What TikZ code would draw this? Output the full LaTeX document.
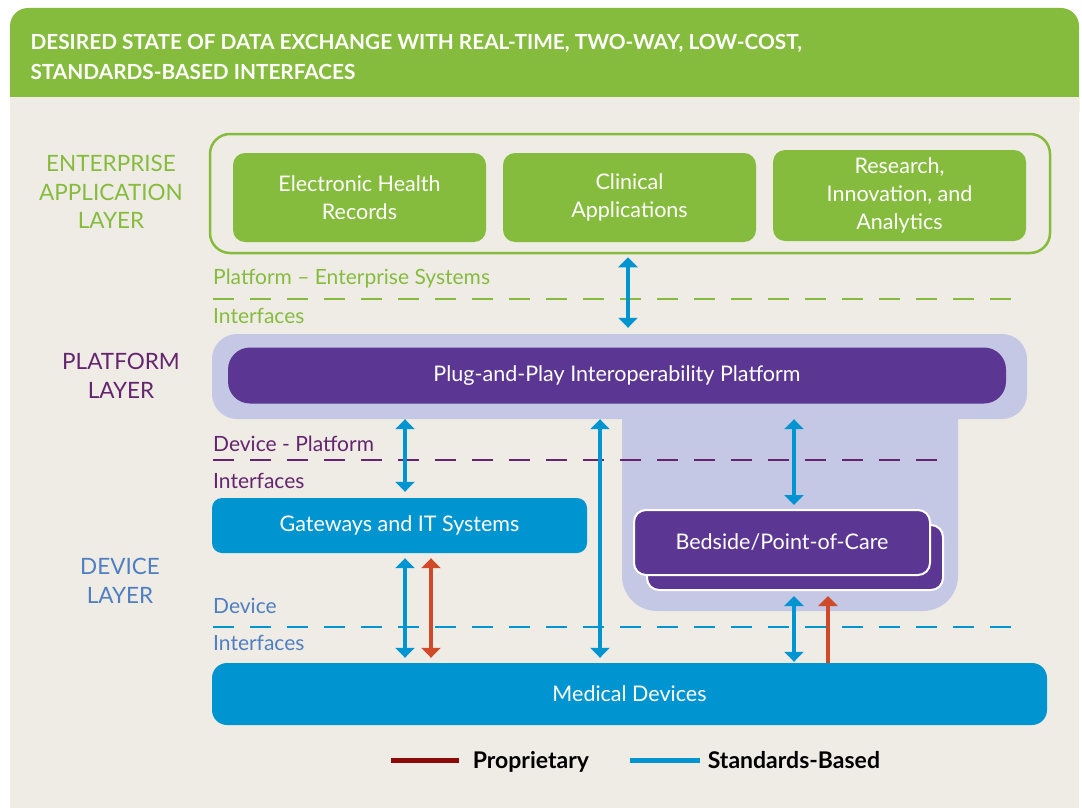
\documentclass[tikz,border=0pt]{standalone}
\usepackage{fontspec}
\setmainfont{Lato}
\usetikzlibrary{arrows.meta, positioning, calc}

\definecolor{entgreen}{RGB}{134, 188, 61}
\definecolor{pagebeige}{RGB}{239, 236, 230}
\definecolor{platlav}{RGB}{197, 200, 228}
\definecolor{platpurple}{RGB}{91, 55, 147}
\definecolor{devblue}{RGB}{0, 149, 208}
\definecolor{propred}{RGB}{208, 74, 42}
\definecolor{legendred}{RGB}{139, 10, 10}
\definecolor{labelpurple}{RGB}{100, 36, 110}
\definecolor{labelblue}{RGB}{79, 127, 192}

\tikzset{
  boxfont/.style={font=\fontsize{21.5}{28}\selectfont},
  appbox/.style={boxfont, fill=entgreen, text=white, rounded corners=12pt, align=center,
    minimum width=253pt, minimum height=89pt, inner sep=0pt},
  layerlabel/.style={font=\fontsize{22.5}{28.5}\selectfont, align=center},
  iflabel/.style={font=\fontsize{21}{25}\selectfont, anchor=west, inner sep=0pt},
  ifline/.style={line width=2.5pt, dash pattern=on 21pt off 16pt},
  legendtext/.style={text=black, font=\fontsize{23}{27}\bfseries, anchor=base west, yshift=-8pt},
  stdarrow/.style={devblue, line width=4pt, arrows={Triangle[width=19pt,length=10pt]-Triangle[width=19pt,length=10pt]}},
  proparrow/.style={propred, line width=4pt, arrows={Triangle[width=19pt,length=10pt]-Triangle[width=19pt,length=10pt]}},
}

\begin{document}
\begin{tikzpicture}[x=1pt, y=-1pt]
  \useasboundingbox (0, 0) rectangle (1082, 808);
  \fill[white] (0, 0) rectangle (1082, 808);

  % Header band and page
  \fill[entgreen, rounded corners=18pt] (10, 8) rectangle (1079, 130);
  \fill[pagebeige] (10, 97) rectangle (1079, 808);
  \node[anchor=west, align=left, text=white, font=\fontsize{20.8}{30}\bfseries] (title) at (27, 56.5) {
    DESIRED STATE OF DATA EXCHANGE WITH REAL-TIME, TWO-WAY, LOW-COST,\\
    STANDARDS-BASED INTERFACES
  };

  % Layer names
  \node[layerlabel, text=entgreen] (entlayer) at (111, 192) {ENTERPRISE\\APPLICATION\\LAYER};
  \node[layerlabel, text=labelpurple] (platlayer) at (121, 376) {PLATFORM\\LAYER};
  \node[layerlabel, text=labelblue] (devlayer) at (120, 581) {DEVICE\\LAYER};

  % Enterprise applications
  \node[draw=entgreen, line width=2.5pt, rounded corners=20pt, minimum width=840pt, minimum height=119pt] (ent) at (630, 193.5) {};
  \node[appbox] (ehr) at (359.5, 197.5) {Electronic Health\\Records};
  \node[appbox] (clin) at (629.5, 197.5) {Clinical\\Applications};
  \node[appbox, minimum height=91pt] (res) at (899.5, 195.5) {Research,\\Innovation, and\\Analytics};

  % Platform - enterprise interfaces
  \node[iflabel, text=entgreen] (peif) at (213, 279) {Platform -- Enterprise Systems};
  \node[iflabel, text=entgreen] (peif2) at (213, 316) {Interfaces};
  \draw[ifline, entgreen] (213, 299) -- (1020, 299);

  % Platform layer
  \node[fill=platlav, rounded corners=25pt, minimum width=815pt, minimum height=85pt] (platbg) at (619.5, 376.5) {};
  \fill[platlav, rounded corners=35pt] (622, 410) -- (622, 611) -- (958, 611) -- (958, 410);
  \node[fill=platpurple, text=white, boxfont, rounded corners=22pt, minimum width=778pt, minimum height=56pt] (plat) at (617, 375.5) {Plug-and-Play Interoperability Platform};

  % Device - platform interfaces
  \node[iflabel, text=labelpurple] (dpif) at (213, 444) {Device - Platform};
  \node[iflabel, text=labelpurple] (dpif2) at (213, 481) {Interfaces};
  \draw[ifline, labelpurple] (213, 460) -- (943, 460);

  % Device layer
  \node[fill=devblue, text=white, boxfont, rounded corners=10pt, minimum width=375pt, minimum height=55pt] (gw) at (399.5, 525.5) {Gateways and IT Systems};
  \node[fill=platpurple, draw=white, line width=2pt, rounded corners=12pt, minimum width=296pt, minimum height=65pt] (bedback) at (795, 557.5) {};
  \node[fill=platpurple, draw=white, line width=2pt, text=white, boxfont, rounded corners=12pt, minimum width=296pt, minimum height=65pt] (bed) at (782, 542.5) {Bedside/Point-of-Care};
  \node[fill=devblue, text=white, boxfont, rounded corners=15pt, minimum width=835pt, minimum height=62pt] (med) at (629.5, 694) {Medical Devices};

  % Device interfaces
  \node[iflabel, text=labelblue] (dif) at (213, 606) {Device};
  \node[iflabel, text=labelblue] (dif2) at (213, 643) {Interfaces};
  \draw[ifline, devblue] (213, 627) -- (1020, 627);

  % Links
  \coordinate (gwlink) at (405, 0);
  \coordinate (gwprop) at (431, 0);
  \coordinate (midlink) at (600, 0);
  \coordinate (bedlink) at (794, 0);
  \coordinate (bedprop) at (828, 0);
  \draw[stdarrow, shorten <=3pt, shorten >=6pt] (628, 0 |- ent.south) -- (628, 0 |- platbg.north);
  \draw[stdarrow, shorten >=6pt] (gwlink |- platbg.south) -- (gwlink |- gw.north);
  \draw[stdarrow, shorten >=5pt] (midlink |- platbg.south) -- (midlink |- med.north);
  \draw[stdarrow, shorten >=4pt] (bedlink |- platbg.south) -- (bedlink |- bed.north);
  \draw[stdarrow, shorten <=5pt, shorten >=5pt] (gwlink |- gw.south) -- (gwlink |- med.north);
  \draw[proparrow, shorten <=5pt, shorten >=5pt] (gwprop |- gw.south) -- (gwprop |- med.north);
  \draw[stdarrow, shorten <=5pt, shorten >=1pt] (bedlink |- bedback.south) -- (bedlink |- med.north);
  \draw[propred, line width=4pt, -{Triangle[width=19pt,length=10pt]}, shorten >=5pt] (bedprop |- med.north) -- (bedprop |- bedback.south);

  % Legend
  \draw[legendred, line width=5pt] (391, 760) -- (459, 760) node[right=8pt, legendtext] (proplegend) {Proprietary};
  \draw[devblue, line width=5pt] (630, 760) -- (700, 760) node[right=2pt, legendtext] (stdlegend) {Standards-Based};
\end{tikzpicture}
\end{document}
